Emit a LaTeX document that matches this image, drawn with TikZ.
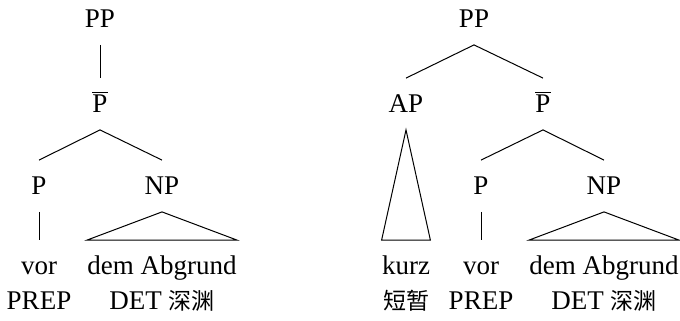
\documentclass[tikz,border=0pt]{standalone}
\usepackage{fontspec}
\setmainfont{Liberation Serif}
\newfontfamily\cjk{Noto Sans CJK SC}
\usepackage{tikz}
\usetikzlibrary{positioning,calc}

\newcommand{\Pbar}{\ensuremath{\overline{\mbox{P}}}}

\begin{document}
\begin{tikzpicture}[x=0.5pt, y=-0.5pt,
    cat/.style={inner xsep=0pt, inner ysep=8.3pt, text height=8.9pt,
      text depth=0pt, font=\fontsize{13.5}{16}\selectfont},
    gloss/.style={inner sep=0pt, font=\fontsize{13.5}{16}\selectfont},
    branch/.style={line width=0.5pt},
    roof/.style={line width=0.5pt, line join=miter}]
    \useasboundingbox (0,0) rectangle (680,321);

    % Left tree: [PP [Pbar [P vor] [NP dem Abgrund]]]
    \node[cat] (lpp) at (100,19) {PP};
    \node[cat] (lpbar) at (100,104) {\Pbar};
    \node[cat] (lp) at (39,186) {P};
    \node[cat] (lnp) at (162,186) {NP};
    \node[cat] (lvor) at (39,266) {vor};
    \node[cat] (ldem) at (162,266) {dem Abgrund};
    \node[gloss] (lprep) at (39,301) {PREP};
    \node[gloss] (ldet) at (162,301) {DET {\cjk\fontsize{11.5}{14}\selectfont 深渊}};

    \draw[branch] (lpp.south) -- (lpbar.north);
    \draw[branch] (lpbar.south) -- (lp.north);
    \draw[branch] (lpbar.south) -- (lnp.north);
    \draw[branch] (lp.south) -- (lvor.north);
    \draw[roof] (lnp.south) -- (ldem.north west) -- (ldem.north east) -- cycle;

    % Right tree: [PP [AP kurz] [Pbar [P vor] [NP dem Abgrund]]]
    \node[cat] (rpp) at (474,19) {PP};
    \node[cat] (rap) at (406,104) {AP};
    \node[cat] (rpbar) at (543,104) {\Pbar};
    \node[cat] (rp) at (481,186) {P};
    \node[cat] (rnp) at (604,186) {NP};
    \node[cat] (rkurz) at (406,266) {kurz};
    \node[cat] (rvor) at (481,266) {vor};
    \node[cat] (rdem) at (604,266) {dem Abgrund};
    \node[gloss] (rshort) at (406,301) {\cjk\fontsize{11.5}{14}\selectfont 短暂};
    \node[gloss] (rprep) at (481,301) {PREP};
    \node[gloss] (rdet) at (604,301) {DET {\cjk\fontsize{11.5}{14}\selectfont 深渊}};

    \draw[branch] (rpp.south) -- (rap.north);
    \draw[branch] (rpp.south) -- (rpbar.north);
    \draw[roof] (rap.south) -- (rkurz.north west) -- (rkurz.north east) -- cycle;
    \draw[branch] (rpbar.south) -- (rp.north);
    \draw[branch] (rpbar.south) -- (rnp.north);
    \draw[branch] (rp.south) -- (rvor.north);
    \draw[roof] (rnp.south) -- (rdem.north west) -- (rdem.north east) -- cycle;
\end{tikzpicture}
\end{document}
